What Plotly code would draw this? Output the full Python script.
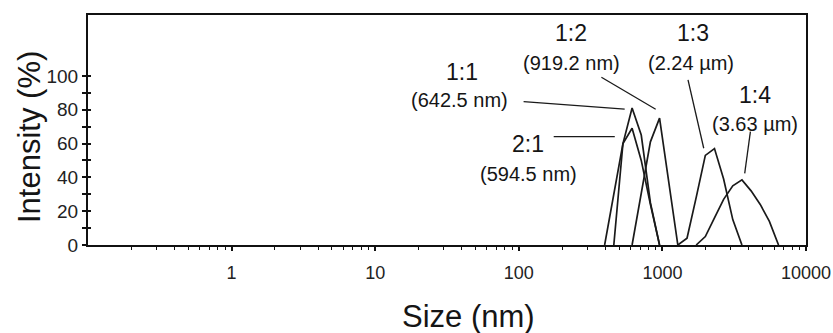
import math
import plotly.graph_objects as go

# ---- data ----
size_2_1 = [396.1, 458.7, 531.2, 615.1, 712.4, 825.0, 955.4]
int_2_1 = [0, 30, 60, 69, 50, 24, 0]

size_1_1 = [458.7, 531.2, 615.1, 712.4, 825.0, 955.4]
int_1_1 = [0, 60, 81, 65, 25, 0]

size_1_2 = [615.1, 712.4, 825.0, 955.4, 1106, 1281]
int_1_2 = [0, 30, 61, 75, 36, 0]

size_1_3 = [1281, 1484, 1718, 1990, 2305, 2669, 3091, 3580]
int_1_3 = [0, 4, 28, 53, 57, 39, 15, 0]

size_1_4 = [1718, 1990, 2305, 2669, 3091, 3580, 4145, 4801, 5560, 6439]
int_1_4 = [0, 5, 16, 27, 35, 38.5, 32, 24, 14, 0]

ratio_labels = ["1:1", "1:2", "1:3", "1:4", "2:1"]
size_labels = ["(642.5 nm)", "(919.2 nm)", "(2.24 µm)", "(3.63 µm)", "(594.5 nm)"]

x_tick_vals = [1, 10, 100, 1000, 10000]
x_tick_text = ["1", "10", "100", "1000", "10000"]
y_tick_vals = [0, 20, 40, 60, 80, 100]
y_minor_vals = [10, 30, 50, 70, 90]

FONT = "Arial, Liberation Sans, sans-serif"
LINE = "#1a1a1a"
TXT = "#151515"

fig = go.Figure()
for xs, ys, nm in [(size_2_1, int_2_1, "2:1"), (size_1_1, int_1_1, "1:1"),
                   (size_1_2, int_1_2, "1:2"), (size_1_3, int_1_3, "1:3"),
                   (size_1_4, int_1_4, "1:4")]:
    fig.add_trace(go.Scatter(x=xs, y=ys, mode="lines", name=nm,
                             line=dict(color=LINE, width=1.7), showlegend=False))

# leader lines (label -> peak)
leaders = {
    "1:1": ((108, 84.8), (546, 80.3)),
    "1:2": ((376, 99.2), (898, 80.3)),
    "1:3": ((1508, 97.6), (1940, 57.2)),
    "1:4": ((4100, 67.0), (3742, 42.4)),
    "2:1": ((175, 64.1), (466, 64.1)),
}
for k, (p0, p1) in leaders.items():
    fig.add_trace(go.Scatter(x=[p0[0], p1[0]], y=[p0[1], p1[1]], mode="lines",
                             line=dict(color=LINE, width=1.3), showlegend=False,
                             hoverinfo="skip"))

# empty trace on overlay axis for crossing ticks
fig.add_trace(go.Scatter(x=[], y=[], yaxis="y2", showlegend=False))

label_pos = {
    "1:1": ((39.9, 102.5), (38.8, 85.8)),
    "1:2": ((232.5, 125.3), (232.5, 107.5)),
    "1:3": ((1633, 125.3), (1592, 107.5)),
    "1:4": ((4393, 88.8), (4393, 71.6)),
    "2:1": ((115.9, 59.8), (115.9, 42.0)),
}
anns = []
for r, s in zip(ratio_labels, size_labels):
    (rx, ry), (sx, sy) = label_pos[r]
    anns.append(dict(x=math.log10(rx), y=ry, xref="x", yref="y", text=r,
                     showarrow=False, font=dict(family=FONT, size=23, color=TXT),
                     xanchor="center", yanchor="middle"))
    anns.append(dict(x=math.log10(sx), y=sy, xref="x", yref="y", text=s,
                     showarrow=False, font=dict(family=FONT, size=20, color=TXT),
                     xanchor="center", yanchor="middle"))

W, H = 833, 333
L, R, T, B = 88, 27, 15, 88
pw, ph = W - L - R, H - T - B

# axis titles (pixel centres converted to paper coords)
for txt, px, py, ang in [("Size (nm)", 468, 316, 0), ("Intensity (%)", 29, 137, -90)]:
    anns.append(dict(x=(px - L) / pw, y=(H - B - py) / ph, xref="paper", yref="paper",
                     text=txt, textangle=ang, showarrow=False,
                     xanchor="center", yanchor="middle",
                     font=dict(family=FONT, size=31, color=TXT)))

minor_x = [k * 10 ** d for d in range(-1, 4) for k in range(2, 10)]

fig.update_layout(
    width=W, height=H,
    margin=dict(l=L, r=R, t=T, b=B, pad=0, autoexpand=False),
    paper_bgcolor="white", plot_bgcolor="white",
    font=dict(family=FONT, size=18, color=TXT),
    annotations=anns,
    hovermode=False,
    xaxis=dict(type="log", range=[-1, 4], tickvals=x_tick_vals, ticktext=x_tick_text,
               ticks="outside", ticklen=4, tickwidth=1.5, tickcolor="#111",
               showline=True, linewidth=2, linecolor="#111", mirror=True,
               showgrid=False, zeroline=False, ticklabelstandoff=6, automargin=False,
               tickfont=dict(family=FONT, size=18, color="#222"),
               minor=dict(tickvals=minor_x, ticks="outside", ticklen=2.5,
                          tickwidth=1.2, tickcolor="#111", showgrid=False)),
    yaxis=dict(range=[0, 136], tickvals=y_tick_vals, automargin=False,
               ticks="outside", ticklen=4, tickwidth=1.5, tickcolor="#111",
               showline=True, linewidth=2, linecolor="#111", mirror=True,
               showgrid=False, zeroline=False,
               tickfont=dict(family=FONT, size=19, color="#222"),
               minor=dict(tickvals=y_minor_vals, ticks="outside", ticklen=4,
                          tickwidth=1.5, tickcolor="#111", showgrid=False)),
    yaxis2=dict(range=[0, 136], overlaying="y", side="left", tickvals=y_tick_vals,
                ticks="inside", ticklen=3, tickwidth=1.5, tickcolor="#111",
                showticklabels=False, showgrid=False, zeroline=False, showline=False,
                automargin=False,
                minor=dict(tickvals=y_minor_vals, ticks="inside", ticklen=3,
                           tickwidth=1.5, tickcolor="#111", showgrid=False)),
)

fig.write_html("out.html", config={"displayModeBar": False},
               post_script="document.body.style.margin='0';document.body.style.padding='0';")
